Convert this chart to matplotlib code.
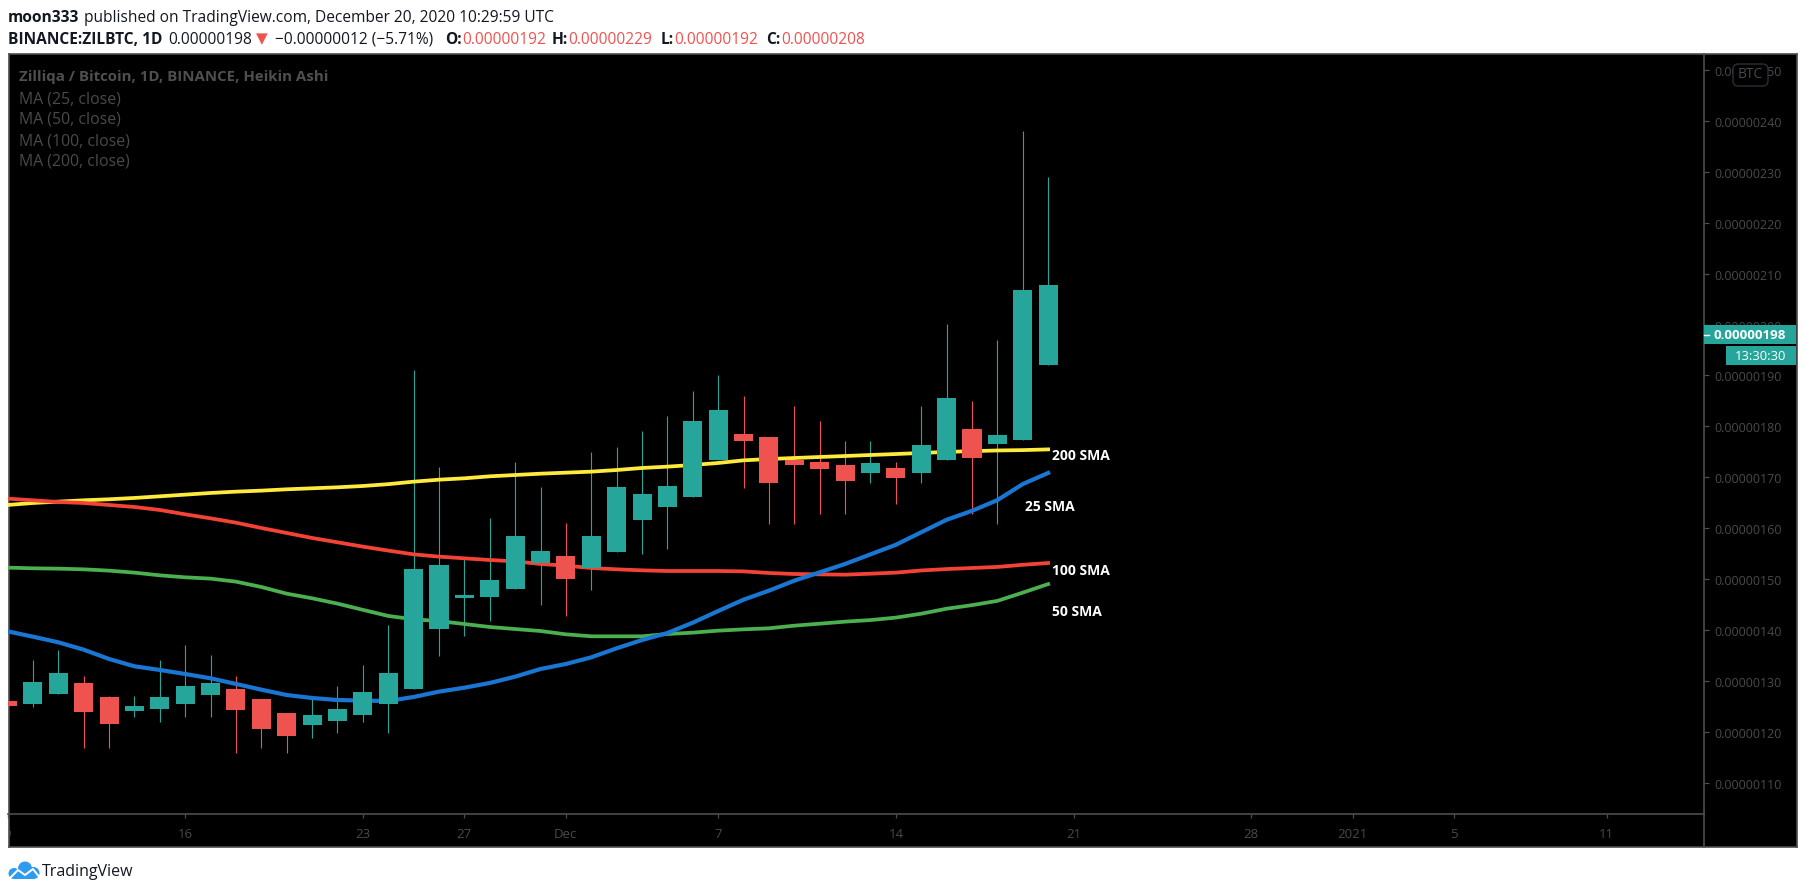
import matplotlib
matplotlib.use("Agg")
import matplotlib.pyplot as plt
from matplotlib.patches import Rectangle, FancyBboxPatch, Circle

# prices are in satoshi (1e-8 BTC), days counted from Nov 16 2020
days = list(range(-7, 35))
opens = [126.06, 125.47, 127.43, 129.59, 126.84, 124.09, 124.48, 125.47, 127.23, 128.41, 126.45, 123.70,
         121.34, 122.13, 123.31, 125.47, 128.41, 140.19, 146.29, 146.48, 148.05, 153.16, 154.54, 152.11,
         155.32, 161.61, 164.16, 166.13, 173.40, 178.51, 177.92, 173.40, 173.00, 172.42, 170.84, 171.83,
         170.85, 173.37, 179.48, 176.53, 177.30, 192.00]
highs = [126.06, 134.11, 136.08, 130.97, 127.04, 127.04, 134.11, 137.06, 135.09, 130.97, 126.45, 123.70,
         127.04, 129.00, 133.13, 140.99, 191.08, 172.02, 153.95, 162.00, 173.00, 168.09, 161.02, 174.97,
         175.95, 179.09, 182.04, 186.95, 190.10, 185.97, 177.92, 183.97, 181.06, 177.13, 177.13, 173.02,
         183.97, 200.11, 184.95, 196.95, 238.00, 229.00]
lows = [125.07, 124.88, 127.43, 116.82, 116.82, 122.91, 121.93, 122.91, 122.91, 115.84, 116.82, 115.84,
        118.79, 119.77, 121.93, 119.77, 128.41, 134.89, 138.82, 141.77, 148.05, 144.91, 142.75, 147.86,
        155.32, 154.93, 155.91, 166.13, 173.40, 167.90, 160.82, 160.88, 162.79, 162.79, 168.88, 164.74,
        168.88, 173.37, 162.85, 160.88, 177.30, 192.00]
closes = [125.07, 129.79, 131.56, 123.89, 121.54, 125.07, 126.84, 128.99, 129.59, 124.29, 120.55, 119.18,
          123.31, 124.48, 127.82, 131.56, 151.98, 152.77, 146.88, 149.82, 158.47, 155.52, 150.02, 158.47,
          168.09, 166.72, 168.29, 181.06, 183.22, 177.13, 168.88, 172.39, 171.63, 169.27, 172.81, 169.87,
          176.32, 185.58, 173.79, 178.28, 206.78, 207.76]

sma25 = [139.74, 138.69, 137.58, 136.14, 134.31, 132.87, 132.15, 131.36, 130.51, 129.40, 128.28, 127.23,
         126.64, 126.25, 126.12, 126.05, 126.84, 127.89, 128.66, 129.59, 130.83, 132.34, 133.32, 134.63,
         136.40, 138.03, 139.41, 141.44, 143.73, 145.96, 147.73, 149.69, 151.33, 152.97, 154.86, 156.74,
         159.20, 161.65, 163.41, 165.51, 168.67, 170.85]
sma50 = [152.25, 152.12, 152.05, 151.92, 151.66, 151.27, 150.74, 150.35, 150.09, 149.50, 148.45, 147.14,
         146.23, 145.18, 143.96, 142.76, 142.10, 141.75, 141.18, 140.59, 140.19, 139.80, 139.15, 138.76,
         138.76, 138.76, 139.21, 139.48, 139.87, 140.13, 140.33, 140.85, 141.24, 141.64, 141.95, 142.43,
         143.20, 144.18, 144.88, 145.72, 147.34, 149.02]
sma100 = [165.81, 165.48, 165.15, 164.95, 164.56, 164.17, 163.58, 162.73, 161.94, 161.09, 160.04, 159.06,
          158.08, 157.23, 156.38, 155.60, 154.86, 154.41, 154.08, 153.75, 153.49, 152.97, 152.64, 152.18,
          151.92, 151.72, 151.59, 151.59, 151.59, 151.52, 151.20, 151.00, 150.93, 150.87, 151.06, 151.27,
          151.69, 151.97, 152.18, 152.39, 152.81, 153.16]
sma200 = [164.56, 164.95, 165.22, 165.48, 165.68, 165.94, 166.26, 166.59, 166.92, 167.18, 167.38, 167.64,
          167.84, 168.03, 168.29, 168.65, 169.14, 169.53, 169.80, 170.19, 170.45, 170.71, 170.91, 171.11,
          171.43, 171.83, 172.09, 172.42, 172.81, 173.33, 173.59, 173.79, 173.99, 174.18, 174.38, 174.57,
          174.78, 174.99, 175.13, 175.27, 175.34, 175.48]

y_ticks = [110, 120, 130, 140, 150, 160, 170, 180, 190, 200, 210, 220, 230, 240, 250]
x_ticks = [-7, 0, 7, 11, 15, 21, 28, 35, 42, 46, 50, 56]
x_labels = ["9", "16", "23", "27", "Dec", "7", "14", "21", "28", "2021", "5", "11"]
legend_lines = ["MA (25, close)", "MA (50, close)", "MA (100, close)", "MA (200, close)"]

last_price = 198
GREEN = "#26a69a"
RED = "#ef5350"
GRID = "#4d4d4d"
FAINT = "#4a4a4a"
DARK = "#131722"
FONT = "Open Sans"
W, H = 1805, 895

plt.rcParams["font.family"] = [FONT, "DejaVu Sans"]


def box(x0, y0, x1, y1):
    # pixel box, measured from the top left, to figure fractions
    return [x0 / W, 1 - y1 / H, (x1 - x0) / W, (y1 - y0) / H]


def put(x, y, s, **kw):
    return fig.text(x / W, 1 - y / H, s, va="center", **kw)


fig = plt.figure(figsize=(W / 100, H / 100), dpi=100, facecolor="white")

# black panel with grey border
frame = fig.add_axes(box(8.5, 55, 1796.5, 848), facecolor="black", zorder=0)
frame.set_xticks([])
frame.set_yticks([])
for s in frame.spines.values():
    s.set_color(GRID)
    s.set_linewidth(1.2)

ax = fig.add_axes(box(7.5, 55, 1704, 815), zorder=1)
ax.patch.set_alpha(0)
ax.set_xlim(-7, 59.84)
ax.set_ylim(103.85, 253.16)
for name in ["left", "top"]:
    ax.spines[name].set_visible(False)
for name in ["right", "bottom"]:
    ax.spines[name].set_color(GRID)
    ax.spines[name].set_linewidth(1.2)
fig.add_artist(plt.Line2D([1704 / W, 1704 / W], [1 - 815 / H, 1 - 848 / H], color=GRID, lw=1.2))

# heikin ashi candles
colors = [GREEN if c >= o else RED for o, c in zip(opens, closes)]
ax.vlines(days, lows, highs, colors=colors, linewidth=0.8, zorder=2)
ax.bar(days, [abs(c - o) for o, c in zip(opens, closes)], bottom=[min(o, c) for o, c in zip(opens, closes)],
       width=0.75, color=colors, linewidth=0, zorder=3)

# moving averages, the candles sit on top of some of them
ax.plot(days, sma200, color="#ffeb3b", lw=2.7, zorder=2.5)
ax.plot(days, sma100, color="#f44336", lw=2.7, zorder=2.5)
ax.plot(days, sma50, color="#4caf50", lw=2.7, zorder=2.5)
ax.plot(days, sma25, color="#1976d2", lw=3.0, zorder=2.6)

for x, y, s in [(34.15, 174.35, "200 SMA"), (33.09, 164.4, "25 SMA"), (34.15, 151.7, "100 SMA"), (34.15, 143.8, "50 SMA")]:
    ax.text(x, y, s, color="white", fontsize=10, fontweight="bold", va="center", zorder=6)

# axes
ax.yaxis.tick_right()
ax.set_yticks(y_ticks)
ax.set_yticklabels(["0.%08d" % v for v in y_ticks])
ax.set_xticks(x_ticks)
ax.set_xticklabels(x_labels)
ax.tick_params(axis="y", colors=GRID, labelcolor=FAINT, length=3.6, width=0.9, pad=4.2, labelsize=9)
ax.tick_params(axis="x", colors=GRID, labelcolor=FAINT, length=3, width=0.9, pad=6.5, labelsize=9.5)
for t in ax.xaxis.get_major_ticks():
    t.label1.set_clip_box(frame.bbox)
    t.label1.set_clip_on(True)

# last price tag and countdown
yt = ax.get_yaxis_transform()
tag_w = (1796 - 1704) / (1704 - 7.5)
ax.add_patch(Rectangle((1.0, last_price - 1.85), tag_w, 3.7, transform=yt, color=GREEN, lw=0, clip_on=False, zorder=7))
ax.add_patch(Rectangle((1 + 22 / 1696.5, last_price - 6.0), tag_w - 22 / 1696.5, 3.7, transform=yt, color=GREEN, lw=0,
                       clip_on=False, zorder=7))
ax.plot([1.0, 1 + 5 / 1696.5], [last_price, last_price], transform=yt, color="white", lw=1, clip_on=False, zorder=8)
ax.text(1 + 82 / 1696.5, last_price, "0.%08d" % last_price, transform=yt, color="white", fontsize=9.6, fontweight="bold",
        ha="right", va="center", zorder=8)
ax.text(1 + 82 / 1696.5, last_price - 4.15, "13:30:30", transform=yt, color="white", fontsize=9.4,
        ha="right", va="center", zorder=8)

# BTC badge over the top label
fig.add_artist(FancyBboxPatch((1733 / W, 1 - 87 / H), 35 / W, 22 / H, boxstyle="round,pad=0,rounding_size=0.003",
                              transform=fig.transFigure, facecolor="black", edgecolor="#2a2e39", lw=1, zorder=5,
                              mutation_aspect=2))
put(1750.5, 75, "BTC", color=FAINT, fontsize=10, ha="center", zorder=6)

# chart legend
put(19, 77, "Zilliqa / Bitcoin, 1D, BINANCE, Heikin Ashi", color="#4f4f4f", fontsize=10.8, fontweight="bold", zorder=6)
for i, s in enumerate(legend_lines):
    put(19, 99 + i * 21, s, color=FAINT, fontsize=11.4, zorder=6)

# header lines
put(8, 18, "moon333", color=DARK, fontsize=11.2, fontweight="bold")
put(84, 18, "published on TradingView.com, December 20, 2020 10:29:59 UTC", color=DARK, fontsize=11.2)
put(8, 40, "BINANCE:ZILBTC, 1D", color=DARK, fontsize=11.2, fontweight="bold")
put(168, 40, "0.00000198", color=DARK, fontsize=11.2)
put(256, 39, "\u25bc", color=RED, fontsize=11, family="DejaVu Sans")
put(275, 40, "\u22120.00000012 (\u22125.71%)", color=DARK, fontsize=11.2)
for xa, xb, a, b in [(445, 462, "O:", "0.00000192"), (552, 568, "H:", "0.00000229"),
                     (661, 674.5, "L:", "0.00000192"), (766, 781, "C:", "0.00000208")]:
    put(xa, 40, a, color=DARK, fontsize=11.2, fontweight="bold")
    put(xb, 40, b, color=RED, fontsize=11.2)

# logo, drawn in pixel units of the picture
logo = fig.add_axes(box(6, 860, 42, 882), zorder=2)
logo.set_xlim(6, 42)
logo.set_ylim(882, 860)
logo.axis("off")
for cx, cy, r in [(14, 874.5, 5.5), (25, 869.5, 7), (33.5, 874, 6)]:
    logo.add_patch(Circle((cx, cy), r, color="#2f9bf0", lw=0))
logo.add_patch(Rectangle((14, 872), 20, 8, color="#2f9bf0", lw=0))
zig_x = [8, 18, 25, 33, 40]
zig_y = [881, 871, 876, 870, 879]
logo.plot(zig_x, zig_y, color="white", lw=1.4)
put(42, 872, "TradingView", color=DARK, fontsize=11.5)

fig.savefig("out.png", dpi=100, facecolor="white")
